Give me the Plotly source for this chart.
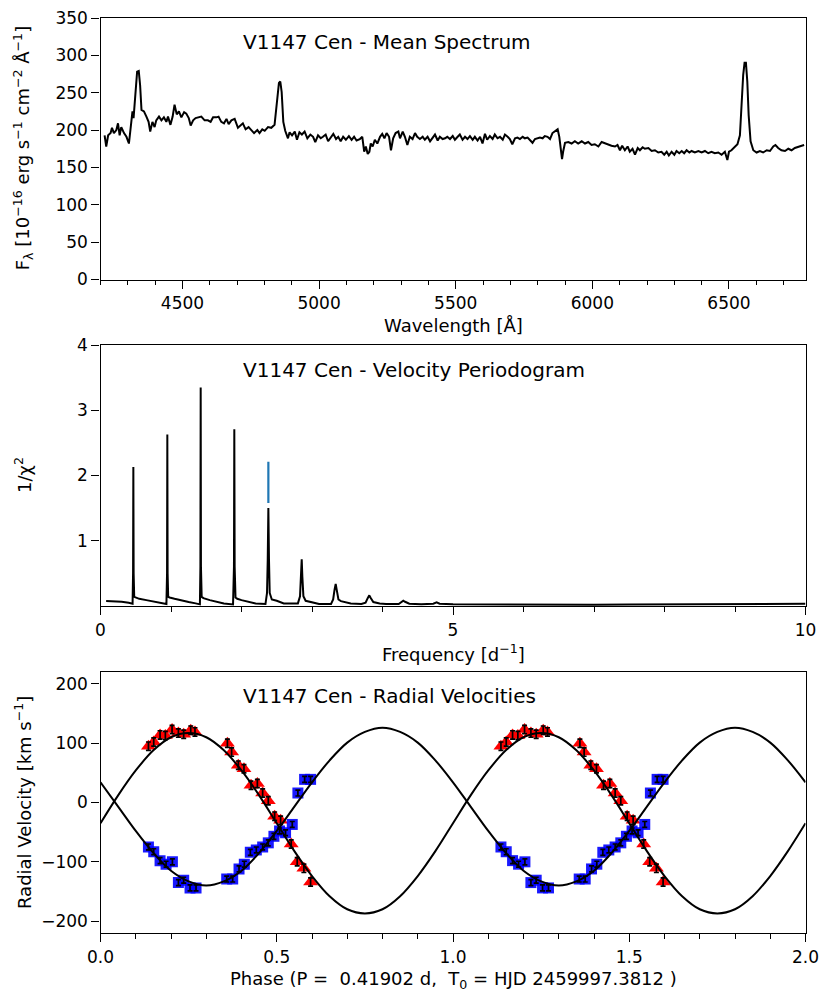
import plotly.graph_objects as go

# ---- mean spectrum (wavelength in Angstrom, flux in 1e-16 erg/s/cm2/A) ----
WAVE = [
    4215, 4221, 4228, 4237, 4242, 4249, 4258, 4264, 4270, 4276, 4286, 4295, 4304,
    4313, 4317, 4321, 4328, 4334, 4340, 4345, 4350, 4359, 4368, 4376, 4382, 4390,
    4398, 4404, 4414, 4423, 4432, 4441, 4447, 4456, 4464, 4471, 4479, 4487, 4496,
    4506, 4514, 4523, 4530, 4539, 4548, 4557, 4569, 4581, 4593, 4603, 4612, 4624,
    4632, 4642, 4652, 4661, 4669, 4679, 4691, 4703, 4713, 4721, 4731, 4742, 4752,
    4762, 4774, 4782, 4792, 4801, 4813, 4825, 4837, 4846, 4853, 4858, 4863, 4869,
    4876, 4886, 4892, 4901, 4911, 4919, 4928, 4937, 4947, 4957, 4968, 4978, 4986,
    4996, 5006, 5014, 5024, 5033,
    5052, 5062, 5070, 5079, 5088, 5098, 5109, 5119, 5128, 5137, 5149, 5158, 5165,
    5171, 5178, 5184, 5189, 5196, 5204, 5213, 5223, 5231, 5239, 5247, 5256, 5263,
    5271, 5280, 5290, 5296, 5306, 5314, 5323, 5332, 5342, 5351, 5359, 5369, 5379,
    5387, 5397, 5406, 5415, 5424, 5434, 5442, 5452, 5461, 5469, 5479, 5489, 5497,
    5507, 5515, 5525, 5534, 5543, 5552, 5562, 5570, 5580, 5589, 5598, 5607, 5615,
    5625, 5635, 5643, 5653, 5662, 5672, 5680, 5690, 5698, 5707, 5717, 5726, 5735,
    5745, 5753, 5763, 5772, 5781, 5790, 5800, 5808, 5818, 5826, 5836, 5845, 5854,
    5863, 5873, 5879, 5884, 5889, 5893, 5900,
    5912, 5924, 5936, 5948, 5961, 5973, 5985, 5997, 6009, 6022, 6034, 6046, 6058,
    6070, 6083, 6092, 6101, 6109, 6119, 6129, 6137, 6147, 6156, 6166, 6174, 6184,
    6192, 6205, 6217, 6229, 6241, 6253, 6263, 6272, 6280, 6290, 6300, 6308, 6318,
    6327, 6336, 6345, 6355, 6363, 6375, 6388, 6400, 6412, 6424, 6436, 6448, 6461,
    6473, 6485, 6494, 6500, 6509, 6522, 6531, 6540, 6546, 6552, 6557, 6562, 6567,
    6572, 6579, 6589, 6601, 6613, 6625, 6638, 6650, 6662, 6670, 6680, 6692, 6705,
    6717, 6729, 6741, 6753, 6766, 6775,
]
FLUX = [
    193, 178, 193, 196, 203, 196, 200, 209, 193, 204, 196, 191, 182,
    213, 225, 216, 256, 278, 279, 260, 227, 225, 218, 211, 198, 211,
    204, 213, 218, 213, 217, 211, 218, 207, 218, 234, 221, 225, 217,
    224, 222, 216, 206, 213, 216, 217, 218, 213, 213, 211, 217, 217,
    218, 211, 209, 215, 208, 213, 215, 203, 207, 209, 201, 204, 200,
    196, 200, 196, 201, 199, 204, 203, 207, 234, 263, 265, 251, 211,
    199, 189, 197, 193, 198, 187, 197, 194, 198, 189, 194, 191, 184,
    193, 189, 191, 194, 185,
    195, 188, 191, 185, 191, 187, 192, 187, 191, 186, 188, 191, 171,
    178, 168, 171, 182, 178, 187, 182, 191, 195, 189, 196, 191, 173,
    189, 196, 198, 189, 198, 191, 180, 191, 188, 196, 191, 188, 191,
    187, 191, 185, 189, 194, 186, 191, 188, 189, 191, 188, 192, 187,
    191, 194, 187, 191, 188, 192, 187, 191, 186, 191, 182, 195, 187,
    192, 188, 194, 189, 191, 187, 194, 191, 188, 181, 189, 190, 188,
    191, 189, 190, 187, 183, 188, 189, 190, 189, 192, 191, 188, 196,
    198, 201, 191, 173, 161, 171, 183,
    184, 182, 185, 182, 185, 182, 184, 180, 181, 178, 184, 182, 180,
    179, 178, 180, 173, 179, 173, 178, 171, 175, 167, 176, 173, 177,
    175, 176, 172, 173, 170, 171, 167, 171, 166, 171, 167, 172, 169,
    172, 169, 173, 170, 172, 170, 172, 170, 172, 169, 171, 169, 170,
    167, 171, 160, 171, 173, 177, 181, 193, 234, 274, 290, 290, 265,
    220, 185, 173, 170, 172, 170, 173, 172, 178, 180, 176, 173, 172,
    175, 173, 176, 177, 179, 180,
]

# ---- velocity periodogram ----
FREQ = [
    0.08, 0.20, 0.30, 0.40, 0.455, 0.462, 0.466, 0.470, 0.478, 0.50, 0.55, 0.65,
    0.75, 0.85, 0.935, 0.944, 0.948, 0.952, 0.960, 0.98, 1.05, 1.15, 1.25, 1.35,
    1.41, 1.417, 1.421, 1.425, 1.435, 1.46, 1.55, 1.65, 1.75, 1.88, 1.893, 1.898,
    1.903, 1.915, 1.94, 2.00, 2.10, 2.20, 2.34, 2.362, 2.372, 2.381, 2.390, 2.400,
    2.43, 2.47, 2.50, 2.60, 2.80, 2.830, 2.845, 2.854, 2.863, 2.878, 2.91, 2.95,
    3.00, 3.10, 3.27, 3.30, 3.32, 3.336, 3.35, 3.375, 3.41, 3.47, 3.55, 3.70,
    3.76, 3.79, 3.813, 3.835, 3.87, 3.96, 4.05, 4.23, 4.27, 4.295, 4.32, 4.38,
    4.55, 4.72, 4.768, 4.81, 5.0, 5.5, 6.0, 6.5, 7.0, 7.5, 8.0, 8.5, 9.0, 9.3,
    9.6, 10.0,
]
POWER = [
    0.075, 0.072, 0.065, 0.05, 0.035, 0.5, 2.13, 0.5, 0.14, 0.13, 0.11, 0.09,
    0.07, 0.05, 0.03, 0.5, 2.63, 0.5, 0.14, 0.13, 0.11, 0.08, 0.06, 0.04,
    0.025, 0.6, 3.35, 0.6, 0.14, 0.12, 0.09, 0.06, 0.04, 0.025, 0.6, 2.71,
    0.6, 0.13, 0.11, 0.09, 0.06, 0.04, 0.03, 0.2, 0.7, 1.50, 0.7, 0.2,
    0.10, 0.09, 0.08, 0.04, 0.04, 0.15, 0.45, 0.715, 0.45, 0.15, 0.08, 0.07,
    0.05, 0.03, 0.03, 0.10, 0.25, 0.337, 0.25, 0.10, 0.075, 0.06, 0.04, 0.03,
    0.05, 0.12, 0.163, 0.12, 0.06, 0.04, 0.03, 0.03, 0.065, 0.081, 0.065, 0.035,
    0.028, 0.035, 0.056, 0.035, 0.025, 0.022, 0.02, 0.02, 0.02, 0.022, 0.025, 0.025, 0.03, 0.032,
    0.03, 0.035,
]
BEST_FREQ = 2.381
BEST_MARK = [1.58, 2.21]

# ---- radial velocities (km/s) folded on P = 0.41902 d ----
PHASE_1 = [0.136, 0.151, 0.169, 0.184, 0.203, 0.221, 0.236, 0.256, 0.268, 0.360,
           0.372, 0.391, 0.407, 0.427, 0.445, 0.460, 0.476, 0.494, 0.511, 0.541,
           0.558, 0.577, 0.596]
RV_1 = [95, 102, 114, 113, 123, 117, 115, 122, 119, 100, 85, 63, 57, 29, 32, 16,
        3, -23, -30, -70, -100, -111, -134]
RV_1_ERR = 7

PHASE_2 = [0.136, 0.151, 0.169, 0.186, 0.204, 0.221, 0.236, 0.254, 0.271, 0.358,
           0.375, 0.393, 0.408, 0.425, 0.442, 0.460, 0.476, 0.492, 0.508, 0.525,
           0.544, 0.560, 0.579, 0.596]
RV_2 = [-75, -83, -98, -104, -100, -135, -131, -144, -144, -129, -129, -112, -104,
        -84, -80, -75, -68, -57, -48, -51, -37, 16, 39, 39]
RV_2_ERR = 5

FIT_PHASE = [0.0, 0.05, 0.1, 0.15, 0.2, 0.25, 0.3, 0.35, 0.4, 0.45, 0.5, 0.55,
             0.6, 0.65, 0.7, 0.75, 0.8, 0.85, 0.9, 0.95, 1.0]
FIT_1 = [-35, 12, 54, 88, 110, 117, 110, 88, 54, 12, -35, -82, -124, -158, -180,
         -187, -180, -158, -124, -82, -35]
FIT_2 = [34, -7, -48, -85, -115, -133, -140, -133, -115, -85, -48, -7, 34, 71, 101,
         119, 126, 119, 101, 71, 34]

W, H = 830, 1004
X0, X1 = 100.5, 805.5
PANELS = [(18, 279.5), (345, 606), (672, 933)]  # top/bottom pixel rows
FONT = "DejaVu Sans"


def px_x(p):
    return p / W


def px_y(p):
    return 1 - p / H


def two_cycles(ph, vals):
    return list(ph) + [p + 1 for p in ph], list(vals) + list(vals)


fig = go.Figure()

fig.add_trace(go.Scatter(x=WAVE, y=FLUX, mode="lines", line=dict(color="black", width=2),
                         xaxis="x", yaxis="y"))

fig.add_trace(go.Scatter(x=FREQ, y=POWER, mode="lines", line=dict(color="black", width=2),
                         xaxis="x2", yaxis="y2"))
fig.add_trace(go.Scatter(x=[BEST_FREQ, BEST_FREQ], y=BEST_MARK, mode="lines",
                         line=dict(color="#1f77b4", width=2.2), xaxis="x2", yaxis="y2"))

px1, rv1 = two_cycles(PHASE_1, RV_1)
px2, rv2 = two_cycles(PHASE_2, RV_2)
fig.add_trace(go.Scatter(x=px1, y=rv1, mode="markers",
                         marker=dict(symbol="triangle-up", size=13, color="red"),
                         xaxis="x3", yaxis="y3"))
fig.add_trace(go.Scatter(x=px2, y=rv2, mode="markers",
                         marker=dict(symbol="square", size=11, color="blue", opacity=0.9),
                         xaxis="x3", yaxis="y3"))
for xs, ys, err in ((px1, rv1, RV_1_ERR), (px2, rv2, RV_2_ERR)):
    fig.add_trace(go.Scatter(
        x=xs, y=ys, mode="markers", marker=dict(size=1, color="rgba(0,0,0,0)"),
        error_y=dict(type="constant", value=err, color="black", thickness=1.7, width=2.5),
        xaxis="x3", yaxis="y3"))

fx1, fv1 = two_cycles(FIT_PHASE[:-1], FIT_1[:-1])
fx2, fv2 = two_cycles(FIT_PHASE[:-1], FIT_2[:-1])
fx1.append(2.0); fv1.append(FIT_1[-1])
fx2.append(2.0); fv2.append(FIT_2[-1])
for fx, fv in ((fx1, fv1), (fx2, fv2)):
    fig.add_trace(go.Scatter(x=fx, y=fv, mode="lines",
                             line=dict(color="black", width=2, shape="spline"),
                             xaxis="x3", yaxis="y3"))

axis_style = dict(showline=True, linecolor="black", linewidth=1.3, mirror=True,
                  ticks="outside", ticklen=8, tickwidth=1.3, tickcolor="black",
                  showgrid=False, zeroline=False, automargin=False,
                  tickfont=dict(family=FONT, size=17, color="black"))
minor_style = dict(ticks="outside", ticklen=4.5, tickwidth=1.1, tickcolor="black")


def ydom(i):
    top, bot = PANELS[i]
    return [px_y(bot), px_y(top)]


xdom = [px_x(X0), px_x(X1)]

fig.update_layout(
    width=W, height=H,
    margin=dict(l=0, r=0, t=0, b=0, pad=0, autoexpand=False),
    paper_bgcolor="white", plot_bgcolor="white",
    showlegend=False,
    font=dict(family=FONT, color="black"),
    xaxis=dict(axis_style, domain=xdom, anchor="y", range=[4200, 6780],
               tick0=0, dtick=500, minor=dict(minor_style, tick0=0, dtick=100)),
    yaxis=dict(axis_style, domain=ydom(0), anchor="x", range=[0, 350], dtick=50),
    xaxis2=dict(axis_style, domain=xdom, anchor="y2", range=[0, 10], tick0=0, dtick=5,
                minor=dict(minor_style, tick0=0, dtick=1)),
    yaxis2=dict(axis_style, domain=ydom(1), anchor="x2", range=[0, 4],
                tickvals=[1, 2, 3, 4]),
    xaxis3=dict(axis_style, domain=xdom, anchor="y3", range=[0, 2], tick0=0, dtick=0.5,
                tickformat=".1f", minor=dict(minor_style, tick0=0, dtick=0.1)),
    yaxis3=dict(axis_style, domain=ydom(2), anchor="x3", range=[-220, 220], dtick=100),
)

TITLES = [("V1147 Cen - Mean Spectrum", 42.5),
          ("V1147 Cen - Velocity Periodogram", 370),
          ("V1147 Cen - Radial Velocities", 696)]
for text, y in TITLES:
    fig.add_annotation(text=text, xref="paper", yref="paper", x=px_x(241), y=px_y(y),
                       xanchor="left", yanchor="middle", showarrow=False,
                       font=dict(family=FONT, size=20, color="black"))

XLABELS = [("Wavelength [Å]", 326),
           ("Frequency [d<sup>−1</sup>]", 653),
           ("Phase (P =&nbsp; 0.41902 d,&nbsp; T<sub>0</sub> = HJD 2459997.3812 )", 980)]
for text, y in XLABELS:
    fig.add_annotation(text=text, xref="paper", yref="paper", x=px_x((X0 + X1) / 2),
                       y=px_y(y), xanchor="center", yanchor="middle", showarrow=False,
                       font=dict(family=FONT, size=18, color="black"))

YLABELS = [("F<sub>λ</sub> [10<sup>−16</sup> erg s<sup>−1</sup> cm<sup>−2</sup> Å<sup>−1</sup>]", 0),
           ("1/χ<sup>2</sup>", 1),
           ("Radial Velocity [km s<sup>−1</sup>]", 2)]
for text, i in YLABELS:
    top, bot = PANELS[i]
    fig.add_annotation(text=text, xref="paper", yref="paper", x=px_x(22.5),
                       y=px_y((top + bot) / 2), xanchor="center", yanchor="middle",
                       textangle=-90, showarrow=False,
                       font=dict(family=FONT, size=18, color="black"))

# the page's default body margin would shift the figure by 8 px
fig.write_html("out.html", config={"displayModeBar": False},
               post_script="document.body.style.margin='0';"
                           "document.body.style.overflow='hidden';")
